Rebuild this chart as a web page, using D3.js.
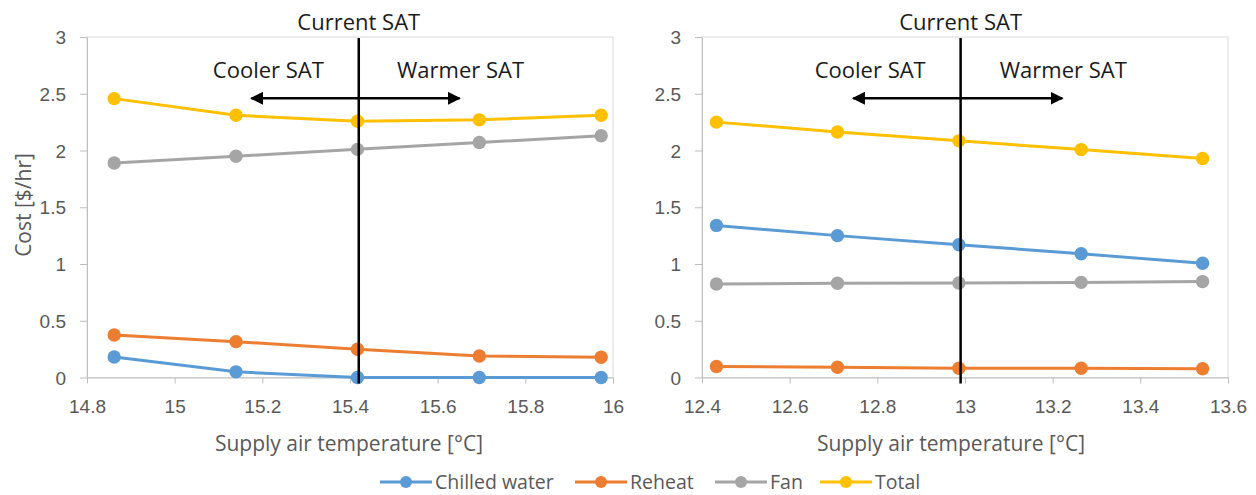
<!DOCTYPE html>
<html>
<head>
<meta charset="utf-8">
<script src="https://cdn.jsdelivr.net/npm/d3@7"></script>
<style>
  body { margin: 0; background: #fff; }
  svg { font-family: "Open Sans", "Noto Sans", sans-serif; }
</style>
</head>
<body>
<div id="chart"></div>
<script>
const seriesNames = ["Chilled water", "Reheat", "Fan", "Total"];
const seriesColors = ["#5B9BD5", "#ED7D31", "#A5A5A5", "#FFC000"];
const yTicks = [0, 0.5, 1, 1.5, 2, 2.5, 3];

// left panel
const leftTemps = [14.862, 15.14, 15.417, 15.695, 15.973];
const leftChilled = [0.18, 0.05, 0, 0, 0];
const leftReheat = [0.375, 0.316, 0.249, 0.19, 0.178];
const leftFan = [1.89, 1.95, 2.01, 2.07, 2.13];
const leftTotal = [2.457, 2.31, 2.258, 2.27, 2.31];
const leftXTicks = [14.8, 15, 15.2, 15.4, 15.6, 15.8, 16];
const leftCurrent = 15.42;
const leftArrow = [15.175, 15.65];

// right panel
const rightTemps = [12.433, 12.709, 12.986, 13.265, 13.542];
const rightChilled = [1.34, 1.25, 1.17, 1.09, 1.006];
const rightReheat = [0.097, 0.09, 0.082, 0.082, 0.077];
const rightFan = [0.824, 0.83, 0.832, 0.838, 0.845];
const rightTotal = [2.25, 2.163, 2.085, 2.008, 1.93];
const rightXTicks = [12.4, 12.6, 12.8, 13, 13.2, 13.4, 13.6];
const rightCurrent = 12.99;
const rightArrow = [12.745, 13.222];

const W = 1256, H = 495;
const svg = d3.select("#chart").append("svg")
  .attr("width", W).attr("height", H);

svg.append("defs").append("marker")
  .attr("id", "head")
  .attr("viewBox", "0 0 10 10")
  .attr("refX", 9).attr("refY", 5)
  .attr("markerWidth", 5.2).attr("markerHeight", 5.2)
  .attr("orient", "auto-start-reverse")
  .append("path")
  .attr("d", "M0,0 L10,5 L0,10 Z")
  .attr("fill", "#000");

function drawPanel(opt) {
  const x = d3.scaleLinear().domain(d3.extent(opt.xTicks)).range([opt.left, opt.right]);
  const y = d3.scaleLinear().domain([0, 3]).range([opt.bottom, opt.top]);
  const g = svg.append("g");

  // plot frame
  g.append("rect")
    .attr("x", opt.left).attr("y", opt.top)
    .attr("width", opt.right - opt.left).attr("height", opt.bottom - opt.top)
    .attr("fill", "none").attr("stroke", "#d9d9d9").attr("stroke-width", 1);

  // axes
  const xAxis = g.append("g")
    .attr("transform", `translate(0,${opt.bottom})`)
    .call(d3.axisBottom(x).tickValues(opt.xTicks).tickSize(6).tickSizeOuter(0)
      .tickFormat(d3.format("~g")));
  const yAxis = g.append("g")
    .attr("transform", `translate(${opt.left},0)`)
    .call(d3.axisLeft(y).tickValues(yTicks).tickSize(7).tickSizeOuter(0)
      .tickFormat(d3.format("~g")));
  [xAxis, yAxis].forEach(a => {
    a.select(".domain").attr("stroke", "#bfbfbf");
    a.selectAll(".tick line").attr("stroke", "#bfbfbf");
    a.selectAll(".tick text")
      .attr("fill", "#595959")
      .style("font-size", "19px");
  });
  xAxis.selectAll(".tick text").attr("y", 35).attr("dy", null);
  yAxis.selectAll(".tick text").attr("x", -21).attr("dy", "0.35em");

  // series
  const line = d3.line().x(d => x(d[0])).y(d => y(d[1]));
  opt.series.forEach((vals, i) => {
    const pts = opt.temps.map((t, j) => [t, vals[j]]);
    g.append("path")
      .datum(pts)
      .attr("d", line)
      .attr("fill", "none")
      .attr("stroke", seriesColors[i])
      .attr("stroke-width", 3);
    g.selectAll(null)
      .data(pts)
      .enter()
      .append("circle")
      .attr("cx", d => x(d[0]))
      .attr("cy", d => y(d[1]))
      .attr("r", 6.7)
      .attr("fill", seriesColors[i]);
  });

  // current SAT line
  g.append("line")
    .attr("x1", x(opt.current)).attr("x2", x(opt.current))
    .attr("y1", y(3) + 1).attr("y2", y(0) + 6)
    .attr("stroke", "#000").attr("stroke-width", 2.5);
  g.append("text")
    .attr("x", x(opt.current)).attr("y", 30)
    .attr("text-anchor", "middle")
    .style("font-size", "22px").attr("fill", "#1a1a1a")
    .text("Current SAT");

  // arrow
  g.append("line")
    .attr("x1", x(opt.arrow[0])).attr("x2", x(opt.arrow[1]))
    .attr("y1", y(2.46)).attr("y2", y(2.46))
    .attr("stroke", "#000").attr("stroke-width", 2.5)
    .attr("marker-start", "url(#head)")
    .attr("marker-end", "url(#head)");
  g.append("text")
    .attr("x", x(opt.arrow[0]) + 17).attr("y", 78)
    .attr("text-anchor", "middle")
    .style("font-size", "22px").attr("fill", "#1a1a1a")
    .text("Cooler SAT");
  g.append("text")
    .attr("x", x(opt.arrow[1]) + 1).attr("y", 78)
    .attr("text-anchor", "middle")
    .style("font-size", "22px").attr("fill", "#1a1a1a")
    .text("Warmer SAT");

  // x title
  g.append("text")
    .attr("x", opt.titleX).attr("y", 451)
    .attr("text-anchor", "middle")
    .style("font-size", "21px").attr("fill", "#595959")
    .text("Supply air temperature [°C]");
}

drawPanel({
  left: 87, right: 613, top: 37, bottom: 377.5,
  xTicks: leftXTicks, temps: leftTemps,
  series: [leftChilled, leftReheat, leftFan, leftTotal],
  current: leftCurrent, arrow: leftArrow, titleX: 349
});
drawPanel({
  left: 702, right: 1228, top: 37, bottom: 377.5,
  xTicks: rightXTicks, temps: rightTemps,
  series: [rightChilled, rightReheat, rightFan, rightTotal],
  current: rightCurrent, arrow: rightArrow, titleX: 951
});

// y title
svg.append("text")
  .attr("transform", "translate(31,205) rotate(-90)")
  .attr("text-anchor", "middle")
  .style("font-size", "21px").attr("fill", "#595959")
  .text("Cost [$/hr]");

// legend
const legendX = [380, 575, 715, 820];
const legend = svg.append("g").attr("transform", "translate(0,482)");
seriesNames.forEach((name, i) => {
  const lg = legend.append("g").attr("transform", `translate(${legendX[i]},0)`);
  lg.append("line").attr("x1", 0).attr("x2", 52)
    .attr("stroke", seriesColors[i]).attr("stroke-width", 3);
  lg.append("circle").attr("cx", 26).attr("r", 6).attr("fill", seriesColors[i]);
  lg.append("text").attr("x", 55).attr("dy", "0.35em")
    .style("font-size", "19.5px").attr("fill", "#595959")
    .text(name);
});
</script>
</body>
</html>
